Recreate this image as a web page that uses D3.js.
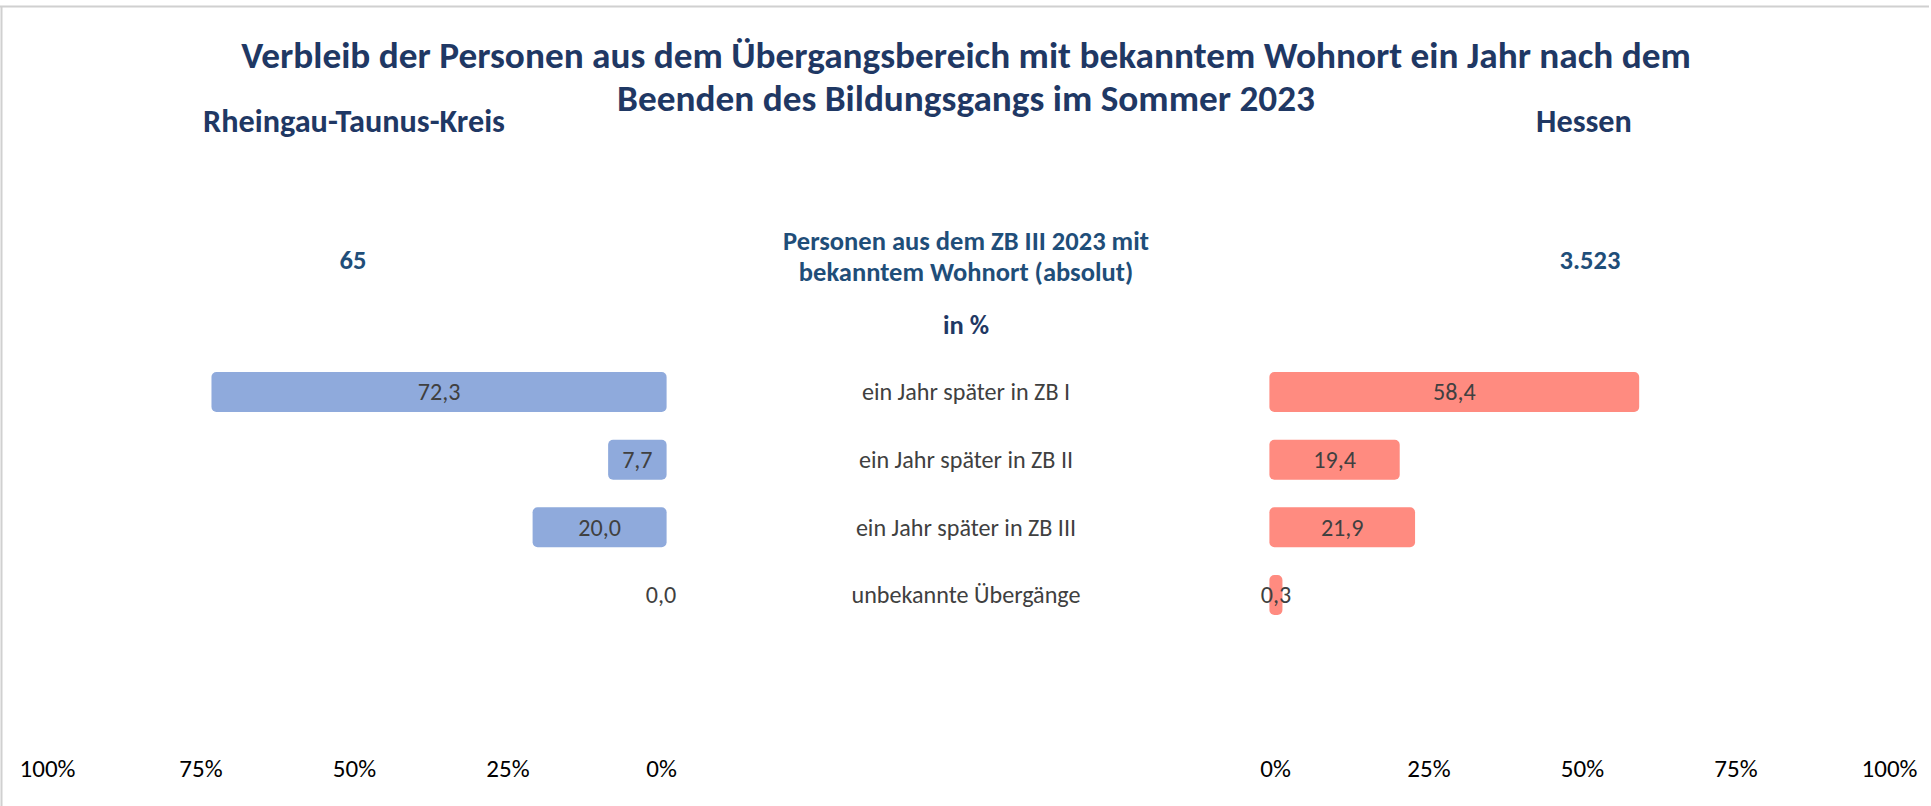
<!DOCTYPE html>
<html>
<head>
<meta charset="utf-8">
<script src="https://cdn.jsdelivr.net/npm/d3@7"></script>
<style>
  html, body { margin: 0; padding: 0; background: #ffffff; }
  svg { display: block; }
  text { font-family: Carlito, Lato, "Open Sans", sans-serif; }
</style>
</head>
<body>
<svg id="chart" width="1931" height="806"></svg>
<script>
// ---------------- data ----------------
const titleLines = [
  "Verbleib der Personen aus dem Übergangsbereich mit bekanntem Wohnort ein Jahr nach dem",
  "Beenden des Bildungsgangs im Sommer 2023"
];
const regions = ["Rheingau-Taunus-Kreis", "Hessen"];
const absoluteCounts = ["65", "3.523"];
const headerLines = ["Personen aus dem ZB III 2023 mit", "bekanntem Wohnort (absolut)"];
const unitLabel = "in %";
const categories = [
  "ein Jahr später in ZB I",
  "ein Jahr später in ZB II",
  "ein Jahr später in ZB III",
  "unbekannte Übergänge"
];
const valuesRTK = [72.3, 7.7, 20.0, 0.0];
const valuesHessen = [58.4, 19.4, 21.9, 0.3];
const tickValues = [0, 25, 50, 75, 100];

// ---------------- layout ----------------
const W = 1931, H = 806;
const svg = d3.select("#chart");
const fmt = v => v.toFixed(1).replace(".", ",");

// frame lines
svg.append("line").attr("x1", 0).attr("x2", 1929).attr("y1", 6.5).attr("y2", 6.5)
  .attr("stroke", "#d0d0d0").attr("stroke-width", 2);
svg.append("line").attr("x1", 1.5).attr("x2", 1.5).attr("y1", 6).attr("y2", H)
  .attr("stroke", "#d0d0d0").attr("stroke-width", 2);

// helper: fit font-size so that text reaches a target width
function fitSize(sel, base, target) {
  sel.style("font-size", base + "px");
  const w = sel.node().getComputedTextLength();
  const s = base * target / w;
  sel.style("font-size", s + "px");
  return s;
}

// scales
const xLeft = d3.scaleLinear().domain([0, 100]).range([661, 47]);
const xRight = d3.scaleLinear().domain([0, 100]).range([1275, 1889]);
const yPos = d3.scalePoint().domain(categories).range([392, 595]);
const barH = 40, ext = 5.6;
const centerX = 966;

// title
const t1 = svg.append("text").attr("x", centerX).attr("y", 68).attr("text-anchor", "middle")
  .attr("font-weight", "bold").attr("fill", "#1f3864").text(titleLines[0]);
const titleSize = fitSize(t1, 32, 1450);
svg.append("text").attr("x", centerX).attr("y", 111).attr("text-anchor", "middle")
  .attr("font-weight", "bold").attr("fill", "#1f3864").style("font-size", titleSize + "px")
  .text(titleLines[1]);

// region titles
const regionX = [354, 1584];
const r0 = svg.append("text").attr("x", regionX[0]).attr("y", 132).attr("text-anchor", "middle")
  .attr("font-weight", "bold").attr("fill", "#1f3864").text(regions[0]);
const regSize = fitSize(r0, 26, 302);
svg.append("text").attr("x", regionX[1]).attr("y", 132).attr("text-anchor", "middle")
  .attr("font-weight", "bold").attr("fill", "#1f3864").style("font-size", regSize + "px")
  .text(regions[1]);

// header in centre
const h0 = svg.append("text").attr("x", centerX).attr("y", 250).attr("text-anchor", "middle")
  .attr("font-weight", "bold").attr("fill", "#1f4e79").text(headerLines[0]);
const headSize = fitSize(h0, 22, 366);
svg.append("text").attr("x", centerX).attr("y", 281).attr("text-anchor", "middle")
  .attr("font-weight", "bold").attr("fill", "#1f4e79").style("font-size", headSize + "px")
  .text(headerLines[1]);
svg.append("text").attr("x", centerX).attr("y", 334).attr("text-anchor", "middle")
  .attr("font-weight", "bold").attr("fill", "#1f3864").style("font-size", headSize + "px")
  .text(unitLabel);

// absolute counts
const countX = [353, 1590];
absoluteCounts.forEach((c, i) => {
  svg.append("text").attr("x", countX[i]).attr("y", 269).attr("text-anchor", "middle")
    .attr("font-weight", "bold").attr("fill", "#1f4e79").style("font-size", headSize + "px")
    .text(c);
});

// category labels
const catG = svg.append("g");
const catTexts = catG.selectAll("text").data(categories).join("text")
  .attr("x", centerX).attr("y", d => yPos(d)).attr("dy", "0.35em")
  .attr("text-anchor", "middle").attr("fill", "#404040").text(d => d);
const catSize = fitSize(d3.select(catTexts.nodes()[3]), 21, 229);
catTexts.style("font-size", catSize + "px");

// left bars
const leftG = svg.append("g");
const leftData = categories.map((c, i) => ({ c, v: valuesRTK[i] }));
leftG.selectAll("rect").data(leftData.filter(d => d.v > 0)).join("rect")
  .attr("x", d => xLeft(d.v) - ext)
  .attr("width", d => xLeft(0) - xLeft(d.v) + 2 * ext)
  .attr("y", d => yPos(d.c) - barH / 2).attr("height", barH)
  .attr("rx", 5).attr("ry", 5).attr("fill", "#8faadc");
leftG.selectAll("text").data(leftData).join("text")
  .attr("x", d => (xLeft(d.v) + xLeft(0)) / 2).attr("y", d => yPos(d.c)).attr("dy", "0.35em")
  .attr("text-anchor", "middle").attr("fill", "#404040").style("font-size", catSize + "px")
  .text(d => fmt(d.v));

// right bars
const rightG = svg.append("g");
const rightData = categories.map((c, i) => ({ c, v: valuesHessen[i] }));
rightG.selectAll("rect").data(rightData.filter(d => d.v > 0)).join("rect")
  .attr("x", d => xRight(0) - ext)
  .attr("width", d => xRight(d.v) - xRight(0) + 2 * ext)
  .attr("y", d => yPos(d.c) - barH / 2).attr("height", barH)
  .attr("rx", 5).attr("ry", 5).attr("fill", "#ff8b80");
rightG.selectAll("text").data(rightData).join("text")
  .attr("x", d => (xRight(d.v) + xRight(0)) / 2).attr("y", d => yPos(d.c)).attr("dy", "0.35em")
  .attr("text-anchor", "middle").attr("fill", "#404040").style("font-size", catSize + "px")
  .text(d => fmt(d.v));

// axes
function styleAxis(g) {
  g.select(".domain").remove();
  g.selectAll(".tick line").remove();
  g.selectAll(".tick text").attr("fill", "#000000").attr("dy", "0.35em").attr("y", 0)
    .style("font-family", 'Carlito, Lato, "Open Sans", sans-serif');
}
const axL = svg.append("g").attr("transform", "translate(0,768)")
  .call(d3.axisBottom(xLeft).tickValues(tickValues).tickFormat(d => d + "%").tickSize(0))
  .call(styleAxis);
const axR = svg.append("g").attr("transform", "translate(0,768)")
  .call(d3.axisBottom(xRight).tickValues(tickValues).tickFormat(d => d + "%").tickSize(0))
  .call(styleAxis);
const hundred = axL.selectAll(".tick text").filter(d => d === 100);
const tickSize = fitSize(hundred, 24, 56);
axL.selectAll(".tick text").style("font-size", tickSize + "px");
axR.selectAll(".tick text").style("font-size", tickSize + "px");
</script>
</body>
</html>
